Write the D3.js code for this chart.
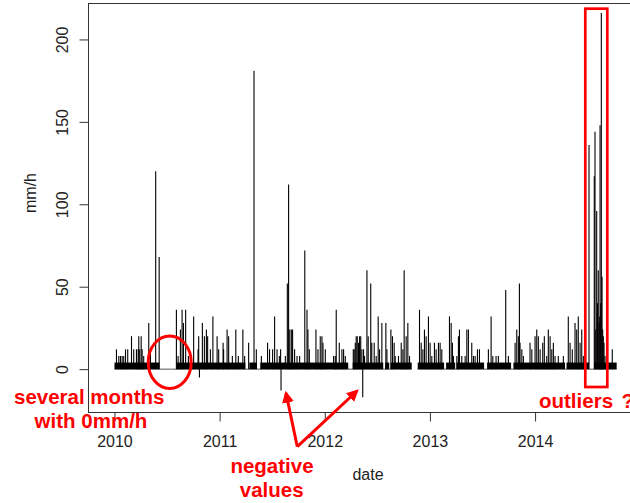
<!DOCTYPE html>
<html>
<head>
<meta charset="utf-8">
<script src="https://cdn.jsdelivr.net/npm/d3@7"></script>
<style>
  html, body { margin: 0; padding: 0; background: #fff; }
  svg { display: block; font-family: "Liberation Sans", Arial, sans-serif; }
  .axis text { font-size: 16px; fill: #222; }
  .note { font-size: 20.5px; font-weight: bold; fill: #f00; }
</style>
</head>
<body>
<div class="chart"></div>
<script>
// hourly rain (mm/h), the visible peaks, date as decimal year
const spikeDates = [
  2010.019, 2010.041, 2010.057, 2010.073, 2010.088, 2010.105, 2010.126, 2010.162, 2010.183, 2010.209,
  2010.225, 2010.231, 2010.240, 2010.254, 2010.263, 2010.278, 2010.326, 2010.342, 2010.392, 2010.425,
  2010.589, 2010.605, 2010.627, 2010.643, 2010.656, 2010.677, 2010.703, 2010.753, 2010.795, 2010.801,
  2010.808, 2010.836, 2010.855, 2010.874, 2010.886, 2010.912, 2010.936, 2010.976, 2010.991, 2011.033,
  2011.038, 2011.071, 2011.086, 2011.121, 2011.154, 2011.178, 2011.221, 2011.238, 2011.276, 2011.327,
  2011.349, 2011.397, 2011.456, 2011.475, 2011.504, 2011.523, 2011.546, 2011.568, 2011.580, 2011.584,
  2011.625, 2011.644, 2011.656, 2011.667, 2011.682, 2011.694, 2011.713, 2011.736, 2011.761, 2011.810,
  2011.831, 2011.840, 2011.853, 2011.916, 2011.935, 2011.957, 2011.973, 2011.983, 2012.005, 2012.084,
  2012.100, 2012.109, 2012.138, 2012.163, 2012.179, 2012.195, 2012.271, 2012.280, 2012.290, 2012.299,
  2012.309, 2012.321, 2012.331, 2012.342, 2012.353, 2012.361, 2012.369, 2012.378, 2012.401, 2012.413,
  2012.437, 2012.447, 2012.470, 2012.489, 2012.508, 2012.521, 2012.543, 2012.581, 2012.591, 2012.629,
  2012.644, 2012.660, 2012.670, 2012.701, 2012.727, 2012.743, 2012.755, 2012.774, 2012.790, 2012.806,
  2012.901, 2012.917, 2012.933, 2012.948, 2012.964, 2012.986, 2013.002, 2013.018, 2013.043, 2013.059,
  2013.081, 2013.097, 2013.113, 2013.186, 2013.202, 2013.214, 2013.224, 2013.256, 2013.271, 2013.281,
  2013.303, 2013.335, 2013.351, 2013.366, 2013.398, 2013.414, 2013.430, 2013.452, 2013.471, 2013.556,
  2013.582, 2013.598, 2013.629, 2013.651, 2013.721, 2013.746, 2013.810, 2013.826, 2013.841, 2013.851,
  2013.857, 2013.874, 2013.889, 2013.952, 2013.969, 2014.000, 2014.016, 2014.031, 2014.048, 2014.073,
  2014.088, 2014.111, 2014.126, 2014.143, 2014.159, 2014.174, 2014.190, 2014.221, 2014.269, 2014.316,
  2014.333, 2014.354, 2014.380, 2014.396, 2014.411, 2014.428, 2014.444, 2014.459, 2014.513, 2014.563,
  2014.570, 2014.577, 2014.586, 2014.594, 2014.601, 2014.608, 2014.615, 2014.618, 2014.624, 2014.630,
  2014.637, 2014.643, 2014.649, 2014.656, 2014.665, 2014.684, 2014.734
]
const spikeValues = [
  12, 8, 8, 8, 8, 12, 12, 20, 12, 12,
  12, 20, 12, 20, 12, 8, 28, 12, 120, 68,
  36, 8, 24, 36, 28, 36, 8, 32, 12, 20,
  -5, 28, 20, 24, 20, 12, 32, 20, 12, 16,
  12, 24, 20, 8, 24, 8, 24, 8, 16, 181,
  12, 8, 16, 12, 12, 32, 12, 8, 12, -13,
  8, 52, 112, 24, 24, 24, 12, 8, 8, 72,
  36, 24, 12, 24, 12, 20, 20, 16, 12, 8,
  8, 36, 16, 12, 12, 8, 12, 12, 16, 20,
  20, 16, 20, 20, 12, -17, 12, 8, 60, 20,
  52, 16, 16, 8, 32, 12, 28, 28, 12, 24,
  20, 16, 8, 8, 16, 12, 60, 20, 28, 8,
  36, 16, 12, 24, 20, 32, 16, 8, 16, 12,
  16, 16, 12, 32, 28, 16, 8, 8, 20, 24,
  8, 8, 24, 24, 16, 8, 8, 12, 12, 12,
  32, 8, 8, 8, 48, 8, 16, 24, 20, 52,
  16, 12, 8, 16, 12, 20, 24, 20, 12, 16,
  20, 8, 24, 20, 12, 16, 8, 8, 8, 32,
  16, 12, 28, 24, 32, 16, 24, 8, 136, 117,
  144, 24, 96, 40, 60, 28, 32, 148, 40, 216,
  56, 24, 20, 16, 8, 8, 12
]

// stretches where small readings are so dense they print as a solid band
const bandStarts = [2010.000, 2010.589, 2011.283, 2011.387, 2012.266, 2012.575, 2012.627, 2012.884, 2013.154, 2013.254, 2013.544, 2013.794, 2014.299, 2014.561]
const bandEnds = [2010.428, 2011.245, 2011.354, 2012.223, 2012.556, 2012.613, 2012.827, 2013.135, 2013.240, 2013.515, 2013.772, 2014.285, 2014.513, 2014.776]
const bandValue = 4

// periods with data (zero line), the hole late 2012 has no record
const recordStarts = [2010.000, 2012.884]
const recordEnds = [2012.827, 2014.776]

const yTicks = [0, 50, 100, 150, 200]
const xTicks = [2010, 2011, 2012, 2013, 2014]

document.addEventListener('DOMContentLoaded', start)

function start () {
  const width = 630
  const height = 503
  const svg = d3.select('.chart')
    .append('svg')
    .attr('width', width)
    .attr('height', height)

  // plot box runs past the right edge of the picture
  const box = { left: 88.5, right: 648, top: 3.5, bottom: 412.5 }
  const x = d3.scaleLinear()
    .domain([2009.753, 2015.074])
    .range([box.left, box.right])
  const y = d3.scaleLinear()
    .domain([-26.3, 221.8])
    .range([box.bottom, box.top])

  drawSeries(svg, x, y)
  drawAxes(svg, x, y, box)
  drawNotes(svg)
}

function drawSeries (svg, x, y) {
  const g = svg.append('g')

  g.selectAll('.record')
    .data(d3.range(recordStarts.length))
    .enter().append('line')
    .attr('x1', i => x(recordStarts[i]))
    .attr('x2', i => x(recordEnds[i]))
    .attr('y1', y(0))
    .attr('y2', y(0))
    .attr('stroke', '#555')
    .attr('stroke-width', 1)

  g.selectAll('.band')
    .data(d3.range(bandStarts.length))
    .enter().append('rect')
    .attr('x', i => x(bandStarts[i]))
    .attr('width', i => x(bandEnds[i]) - x(bandStarts[i]))
    .attr('y', y(bandValue))
    .attr('height', y(0) - y(bandValue))
    .attr('fill', '#000')

  g.selectAll('.spike')
    .data(d3.range(spikeDates.length))
    .enter().append('line')
    .attr('x1', i => x(spikeDates[i]))
    .attr('x2', i => x(spikeDates[i]))
    .attr('y1', y(0))
    .attr('y2', i => y(spikeValues[i]))
    .attr('stroke', '#000')
    .attr('stroke-width', 1.1)
}

function drawAxes (svg, x, y, box) {
  svg.append('rect')
    .attr('x', box.left)
    .attr('y', box.top)
    .attr('width', box.right - box.left)
    .attr('height', box.bottom - box.top)
    .attr('fill', 'none')
    .attr('stroke', '#333')

  const xAxis = svg.append('g')
    .attr('class', 'axis')
    .attr('transform', `translate(0,${box.bottom})`)
    .call(d3.axisBottom(x).tickValues(xTicks).tickFormat(d3.format('d')).tickSize(9).tickPadding(25))
  xAxis.select('.domain').remove()
  xAxis.selectAll('line').attr('stroke', '#333')
  xAxis.selectAll('text').attr('dy', 0)

  const yAxis = svg.append('g')
    .attr('class', 'axis')
    .attr('transform', `translate(${box.left},0)`)
    .call(d3.axisLeft(y).tickValues(yTicks).tickSize(9))
  yAxis.select('.domain').remove()
  yAxis.selectAll('line').attr('stroke', '#333')
  yAxis.selectAll('text')
    .attr('x', null)
    .attr('dy', null)
    .attr('text-anchor', 'middle')
    .attr('transform', 'translate(-21,0) rotate(-90)')

  svg.append('text')
    .attr('class', 'axis')
    .attr('x', 368)
    .attr('y', 480)
    .attr('text-anchor', 'middle')
    .style('font-size', '16px')
    .style('fill', '#222')
    .text('date')

  svg.append('text')
    .attr('transform', 'translate(36,193) rotate(-90)')
    .attr('text-anchor', 'middle')
    .style('font-size', '16px')
    .style('fill', '#222')
    .text('mm/h')
}

// red hand-drawn marks on top of the plot
function drawNotes (svg) {
  const red = '#f00'

  svg.append('defs').append('marker')
    .attr('id', 'head')
    .attr('viewBox', '0 0 10 10')
    .attr('refX', 8)
    .attr('refY', 5)
    .attr('markerWidth', 4)
    .attr('markerHeight', 4)
    .attr('orient', 'auto')
    .append('path')
    .attr('d', 'M0,0L10,5L0,10Z')
    .attr('fill', red)

  svg.append('ellipse')
    .attr('cx', 169.7)
    .attr('cy', 362.2)
    .attr('rx', 21.5)
    .attr('ry', 26.3)
    .attr('fill', 'none')
    .attr('stroke', red)
    .attr('stroke-width', 3)

  svg.append('rect')
    .attr('x', 585.3)
    .attr('y', 8.7)
    .attr('width', 22)
    .attr('height', 378.3)
    .attr('fill', 'none')
    .attr('stroke', red)
    .attr('stroke-width', 2.7)

  const tips = [[286, 393], [357, 391]]
  svg.selectAll('.arrow')
    .data(tips)
    .enter().append('line')
    .attr('x1', 297.3)
    .attr('y1', 446.7)
    .attr('x2', d => d[0])
    .attr('y2', d => d[1])
    .attr('stroke', red)
    .attr('stroke-width', 3)
    .attr('marker-end', 'url(#head)')

  const notes = [
    ['several months', 89.2, 404, 'middle'],
    ['with 0mm/h', 91, 428.3, 'middle'],
    ['negative', 272, 473.3, 'middle'],
    ['values', 271.7, 497.3, 'middle']
  ]
  svg.selectAll('.note')
    .data(notes)
    .enter().append('text')
    .attr('class', 'note')
    .attr('x', d => d[1])
    .attr('y', d => d[2])
    .attr('text-anchor', d => d[3])
    .text(d => d[0])

  // the question mark sits a little apart and runs off the edge
  const outl = svg.append('text')
    .attr('class', 'note')
    .attr('x', 539)
    .attr('y', 407.5)
  outl.append('tspan').text('outliers')
  outl.append('tspan').attr('x', 621.5).text('?')
}
</script>
</body>
</html>
